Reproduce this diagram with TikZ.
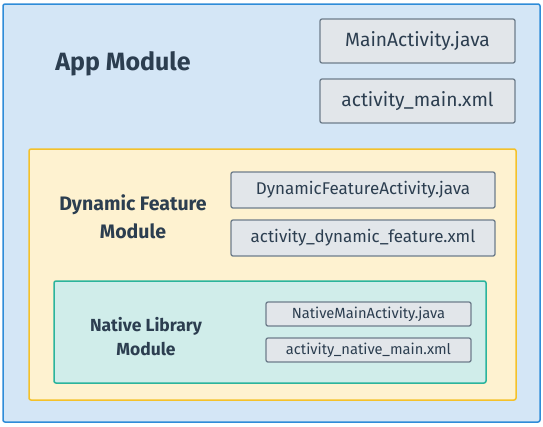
\documentclass[tikz,border=0pt]{standalone}
\usepackage{fontspec}
\setmainfont{Fira Sans}
\definecolor{txt}{HTML}{2C3E50}
\definecolor{appfill}{HTML}{D4E6F6}
\definecolor{appline}{HTML}{2F8CD8}
\definecolor{dynfill}{HTML}{FEF2D0}
\definecolor{dynline}{HTML}{F4C12A}
\definecolor{natfill}{HTML}{D0EDEA}
\definecolor{natline}{HTML}{2BB49C}
\definecolor{filefill}{HTML}{E2E6EA}
\definecolor{fileline}{HTML}{6E7D8B}
\tikzset{
  module/.style={rounded corners=2pt, line width=1.5pt},
  filebox/.style={draw=fileline, fill=filefill, rounded corners=2pt, line width=1.3pt, text=txt, inner sep=0pt},
  title/.style={text=txt, font=\bfseries, align=center},
}
\begin{document}
\begin{tikzpicture}[x=1pt,y=-1pt]
\useasboundingbox (0,0) rectangle (543,426);
\path[module, draw=appline, fill=appfill] (3,4) rectangle (540,422);
\node[title, font=\bfseries\fontsize{25}{30}\selectfont] (app) at (123,64) {App Module};
\node[filebox, minimum width=195pt, minimum height=44pt, font=\fontsize{19.2}{22}\selectfont] (mainj) at (417.5,41) {MainActivity.java};
\node[filebox, minimum width=195pt, minimum height=44pt, font=\fontsize{19.2}{22}\selectfont] (mainx) at (417.5,101) {activity\_main.xml};
\path[module, draw=dynline, fill=dynfill] (29,149) rectangle (516,400);
\node[title, font=\bfseries\fontsize{19.5}{28}\selectfont] (dyn) at (133,217) {Dynamic Feature\\Module};
\node[filebox, minimum width=264pt, minimum height=36pt, font=\fontsize{17}{20}\selectfont] (dynj) at (363,190) {DynamicFeatureActivity.java};
\node[filebox, minimum width=264pt, minimum height=36pt, font=\fontsize{17}{20}\selectfont] (dynx) at (363,238) {activity\_dynamic\_feature.xml};
\path[module, draw=natline, fill=natfill] (54,281) rectangle (486,383);
\node[title, font=\bfseries\fontsize{17.5}{24}\selectfont] (nat) at (146,337) {Native Library\\Module};
\node[filebox, minimum width=205pt, minimum height=24pt, font=\fontsize{14.7}{17}\selectfont] (natj) at (368.5,314) {NativeMainActivity.java};
\node[filebox, minimum width=205pt, minimum height=24pt, font=\fontsize{14.7}{17}\selectfont] (natx) at (368.5,350) {activity\_native\_main.xml};
\end{tikzpicture}
\end{document}
